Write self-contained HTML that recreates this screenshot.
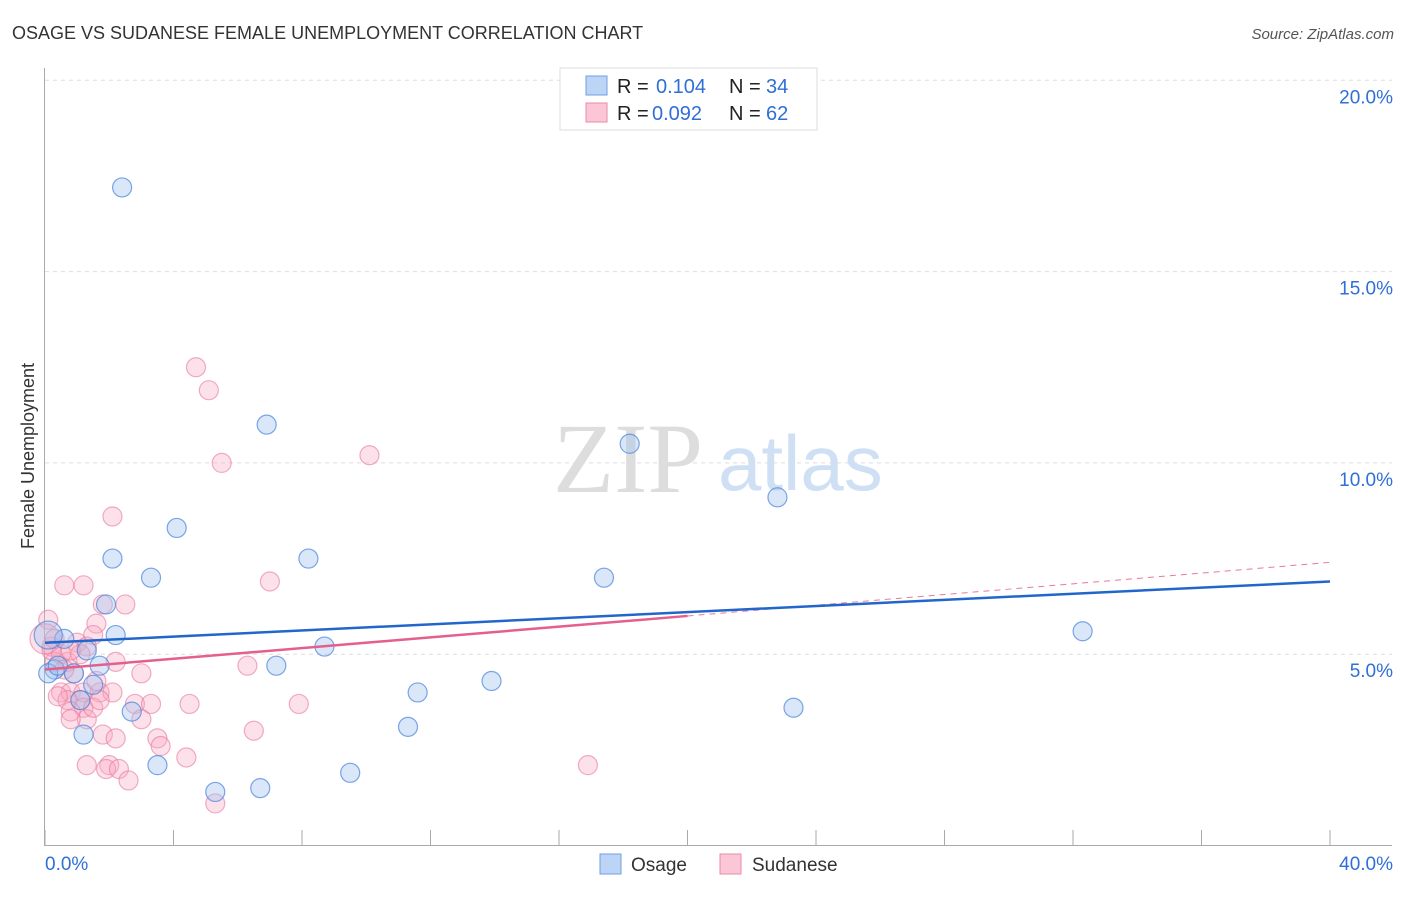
<!DOCTYPE html>
<html><head><meta charset="utf-8"><style>
body{margin:0;background:#fff;font-family:"Liberation Sans",sans-serif;}
</style></head><body>
<svg id="c" width="1406" height="892" style="font-family:'Liberation Sans',sans-serif">
<text x="12" y="39" font-size="18" fill="#333">OSAGE VS SUDANESE FEMALE UNEMPLOYMENT CORRELATION CHART</text>
<text x="1394" y="39" font-size="15" fill="#555" font-style="italic" text-anchor="end">Source: ZipAtlas.com</text>
<text x="34" y="456" font-size="18" fill="#333" transform="rotate(-90 34 456)" text-anchor="middle">Female Unemployment</text>
<text x="553" y="492" font-size="100" fill="#ddd" style="font-family:'Liberation Serif',serif">ZIP</text>
<text x="718" y="490" font-size="78" fill="#cfe0f5">atlas</text>
<g id="grid"></g><g id="pts"></g><g id="lines"></g>
<g>
<rect x="560" y="68" width="257" height="62" fill="#fff" stroke="#ddd"/>
<rect x="586" y="76" width="21" height="19" fill="#bcd4f6" stroke="#6f9fe0"/>
<text x="617" y="93" font-size="20" fill="#222">R = </text><text x="656" y="93" font-size="20" fill="#2f6fd6">0.104</text>
<text x="729" y="93" font-size="20" fill="#222">N = </text><text x="766" y="93" font-size="20" fill="#2f6fd6">34</text>
<rect x="586" y="103" width="21" height="19" fill="#fbc6d5" stroke="#e98aa8"/>
<text x="617" y="120" font-size="20" fill="#222">R = </text><text x="652" y="120" font-size="20" fill="#2f6fd6">0.092</text>
<text x="729" y="120" font-size="20" fill="#222">N = </text><text x="766" y="120" font-size="20" fill="#2f6fd6">62</text>
</g>
<g>
<rect x="600" y="854" width="21" height="20" fill="#bcd4f6" stroke="#6f9fe0"/>
<text x="631" y="871" font-size="19" fill="#333">Osage</text>
<rect x="720" y="854" width="21" height="20" fill="#fbc6d5" stroke="#e98aa8"/>
<text x="752" y="871" font-size="19" fill="#333">Sudanese</text>
</g>
</svg>
<script>
const yTicks=[5,10,15,20];
const xTickLabels=["0.0%","40.0%"];
const osageX=[2.4,6.9,18.2,22.8,4.1,2.1,8.2,3.3,17.4,1.9,2.2,32.3,0.6,0.1,1.3,8.7,1.7,7.2,0.3,0.9,1.5,11.6,13.9,1.1,2.7,23.3,1.2,11.3,3.5,9.5,5.3,6.7,0.1,0.4];
const osageY=[17.2,11.0,10.5,9.1,8.3,7.5,7.5,7.0,7.0,6.3,5.5,5.6,5.4,5.5,5.1,5.2,4.7,4.7,4.6,4.5,4.2,4.0,4.3,3.8,3.5,3.6,2.9,3.1,2.1,1.9,1.4,1.5,4.5,4.7];
const sudX=[4.7,5.1,5.5,10.1,2.1,0.6,1.2,7.0,1.8,2.5,1.6,1.5,1.0,0.1,0.2,1.3,0.3,0.7,2.2,6.3,3.0,0.9,0.5,0.8,1.2,1.7,2.1,1.1,0.7,4.5,2.8,3.3,7.9,1.2,0.8,1.3,0.8,3.0,6.5,1.8,2.2,3.5,3.6,1.3,2.0,1.9,2.3,4.4,16.9,2.6,5.3,0.2,0.5,1.6,0.4,1.5,0.6,1.1,1.7,0.0,0.3,0.8];
const sudY=[12.5,11.9,10.0,10.2,8.6,6.8,6.8,6.9,6.3,6.3,5.8,5.5,5.3,5.9,5.2,5.2,4.8,4.8,4.8,4.7,4.5,4.5,4.0,4.0,4.0,4.0,4.0,3.8,3.8,3.7,3.7,3.7,3.7,3.6,3.5,3.3,3.3,3.3,3.0,2.9,2.8,2.8,2.6,2.1,2.1,2.0,2.0,2.3,2.1,1.7,1.1,5.1,5.0,4.3,3.9,3.6,4.6,5.0,3.8,5.4,5.4,5.1];
const osageTrend=[5.3,6.9];
const sudTrend=[4.6,7.4];
const x=v=>45+v/40*1285, y=v=>845.5-v*38.26;
const NS="http://www.w3.org/2000/svg";
function mk(t,a,p){const e=document.createElementNS(NS,t);for(const k in a)e.setAttribute(k,a[k]);p.appendChild(e);return e;}
const g=document.getElementById('grid');
yTicks.forEach(t=>{
 const l=mk('line',{x1:45,x2:1392,y1:y(t),y2:y(t),stroke:'#ddd','stroke-dasharray':'4,4'},g);
 
 
 const tx=mk('text',{x:1393,y:y(t)+23,'font-size':19,fill:'#2f6fd6','text-anchor':'end'},g);tx.textContent=t.toFixed(1)+'%';
 
 
});
mk('line',{x1:44.5,x2:44.5,y1:68,y2:846,stroke:'#aaa'},g);
mk('line',{x1:45,x2:1392,y1:845.5,y2:845.5,stroke:'#aaa'},g);
for(let i=0;i<=10;i++)mk('line',{x1:x(i*4),x2:x(i*4),y1:830,y2:845,stroke:'#aaa'},g);
const t0=mk('text',{x:45,y:870,'font-size':19,fill:'#2f6fd6'},g);t0.textContent=xTickLabels[0];


const t1=mk('text',{x:1393,y:870,'font-size':19,fill:'#2f6fd6','text-anchor':'end'},g);t1.textContent=xTickLabels[1];


const P=document.getElementById('pts');
sudX.forEach((v,i)=>{const c=mk('circle',{cx:x(v),cy:y(sudY[i]),r:(v<0.05?15:9.5),fill:'rgba(248,170,195,0.35)',stroke:'rgba(232,120,155,0.6)','stroke-width':1.2},P);
 
 });
osageX.forEach((v,i)=>{const c=mk('circle',{cx:x(v),cy:y(osageY[i]),r:(v<0.15&&osageY[i]>5?14:9.5),fill:'rgba(160,195,240,0.4)',stroke:'rgba(70,130,220,0.7)','stroke-width':1.2},P);
 
 });
const L=document.getElementById('lines');
const sy=v=>sudTrend[0]+(sudTrend[1]-sudTrend[0])*v/40;
const d=mk('line',{x1:x(20),y1:y(sy(20)),x2:x(40),y2:y(sy(40)),stroke:'#e9799c','stroke-width':1,'stroke-dasharray':'6,5'},L);


const s=mk('line',{x1:x(0),y1:y(sy(0)),x2:x(20),y2:y(sy(20)),stroke:'#e45f8c','stroke-width':2.5},L);


const o=mk('line',{x1:x(0),y1:y(osageTrend[0]),x2:x(40),y2:y(osageTrend[1]),stroke:'#2266cc','stroke-width':2.5},L);


</script>
</body></html>
